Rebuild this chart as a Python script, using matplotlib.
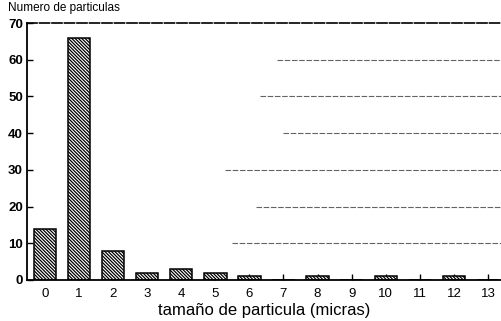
import matplotlib
matplotlib.use("Agg")
import matplotlib.pyplot as plt
import numpy as np

plt.rcParams['font.family'] = ['Liberation Sans', 'DejaVu Sans']
plt.rcParams['hatch.linewidth'] = 0.9

sizes = [0, 1, 2, 3, 4, 5, 6, 7, 8, 9, 10, 11, 12, 13]
counts = [14, 66, 8, 2, 3, 2, 1, 0, 1, 0, 1, 0, 1, 0]
yticks = [0, 10, 20, 30, 40, 50, 60, 70]

fig = plt.figure(figsize=(5.01, 3.21), dpi=100)
ax = fig.add_axes([0.054, 0.128, 0.946, 0.80])

# faint gridlines (right part of chart)
grid_starts = {10: 5.5, 20: 6.2, 30: 5.3, 40: 7.0, 50: 6.3, 60: 6.8}
for y, xs in grid_starts.items():
    ax.plot([xs, 13.6], [y, y], color='#222222', lw=0.8, ls=(0, (5, 1.5)), alpha=0.7, zorder=0)

ax.bar(sizes, counts, width=0.66, color='white', edgecolor='black', linewidth=1.1,
       hatch='\\\\\\\\\\\\\\\\\\\\', zorder=2)

ax.set_xlim(-0.52, 13.38)
ax.set_ylim(0, 70)
ax.set_xticks(sizes)
ax.set_xticklabels([str(s) for s in sizes], fontsize=9.5)
ax.set_yticks(yticks)
ax.set_yticklabels([str(v) for v in yticks], fontsize=9.5, fontweight='bold')

ax.spines['right'].set_visible(False)
ax.spines['top'].set_linestyle((0, (6, 1.5)))
ax.spines['top'].set_linewidth(1.2)
ax.spines['left'].set_linewidth(1.3)
ax.spines['bottom'].set_linewidth(1.3)
ax.tick_params(axis='both', direction='in', length=4, width=1.0)
ax.tick_params(axis='x', pad=6)
ax.tick_params(axis='y', pad=3)

fig.text(0.016, 0.955, 'Numero de particulas', fontsize=8.5, ha='left', va='bottom')
ax.set_xlabel('tamaño de particula (micras)', fontsize=12, labelpad=2)

fig.savefig('out.png', dpi=100)
